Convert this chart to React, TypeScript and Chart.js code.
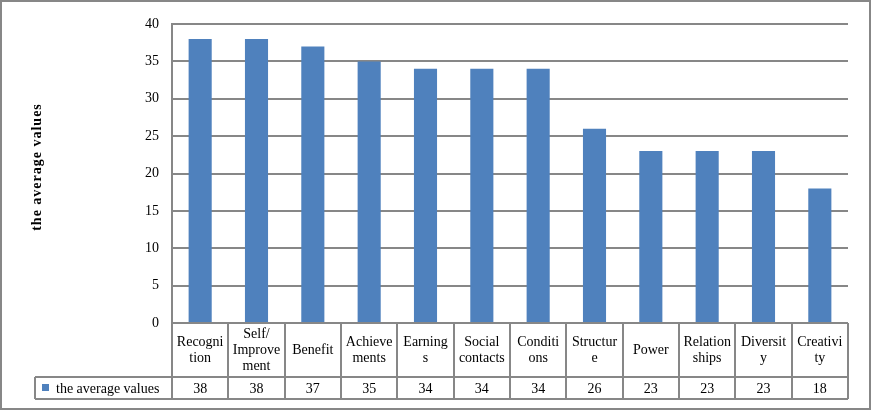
import React, { useEffect, useRef } from "react";
import { Chart, registerables } from "chart.js";

Chart.register(...registerables);

const categories: string[][] = [
  ["Recogni", "tion"],
  ["Self/", "Improve", "ment"],
  ["Benefit"],
  ["Achieve", "ments"],
  ["Earning", "s"],
  ["Social", "contacts"],
  ["Conditi", "ons"],
  ["Structur", "e"],
  ["Power"],
  ["Relation", "ships"],
  ["Diversit", "y"],
  ["Creativi", "ty"],
];
const seriesName = "the average values";
const averageValues = [38, 38, 37, 35, 34, 34, 34, 26, 23, 23, 23, 18];
const yMin = 0;
const yMax = 40;
const yStep = 5;
const axisTitle = "the average values";

const BAR = "#4F81BD";
const GRID = "#878787";
const FONT = '"Liberation Serif", "Times New Roman", serif';

const tablePlugin = {
  id: "dataTable",
  afterDraw(chart: any) {
    const { ctx, chartArea, scales } = chart;
    const xs = scales.x;
    const n = categories.length;
    const right = chartArea.right;
    const top = Math.round(chartArea.bottom);
    const mid = top + 54;
    const bot = mid + 22;
    const legendLeft = 35;
    const half = (xs.getPixelForValue(1) - xs.getPixelForValue(0)) / 2;

    ctx.save();
    ctx.strokeStyle = GRID;
    ctx.lineWidth = 2;
    ctx.beginPath();
    for (let i = 0; i <= n; i++) {
      const px = Math.round(i < n ? xs.getPixelForValue(i) - half : right);
      ctx.moveTo(px, top);
      ctx.lineTo(px, bot);
    }
    ctx.moveTo(legendLeft, mid);
    ctx.lineTo(right, mid);
    ctx.moveTo(legendLeft, bot);
    ctx.lineTo(right, bot);
    ctx.moveTo(legendLeft, mid);
    ctx.lineTo(legendLeft, bot);
    ctx.stroke();

    ctx.fillStyle = "#000";
    ctx.font = "14px " + FONT;
    ctx.textAlign = "center";
    ctx.textBaseline = "middle";
    const lh = 16;
    for (let i = 0; i < n; i++) {
      const cx = xs.getPixelForValue(i);
      const lines = categories[i];
      const cy = (top + mid) / 2;
      const startY = cy - ((lines.length - 1) * lh) / 2;
      lines.forEach((ln, j) => ctx.fillText(ln, cx, startY + j * lh));
      ctx.fillText(String(averageValues[i]), cx, (mid + bot) / 2 + 1);
    }

    ctx.fillStyle = BAR;
    ctx.fillRect(42, 384, 7, 7);
    ctx.fillStyle = "#000";
    ctx.textAlign = "left";
    ctx.fillText(seriesName, 56, (mid + bot) / 2 + 1);

    // rotated axis title
    ctx.save();
    ctx.translate(37, 167);
    ctx.rotate(-Math.PI / 2);
    ctx.font = "bold 14px " + FONT;
    (ctx as any).letterSpacing = "1px";
    ctx.textAlign = "center";
    ctx.textBaseline = "middle";
    ctx.fillText(axisTitle, 0, 0);
    ctx.restore();

    ctx.strokeStyle = GRID;
    ctx.lineWidth = 2;
    ctx.strokeRect(1, 1, 869, 408);
    ctx.restore();
  },
};

export default function App() {
  const ref = useRef<HTMLCanvasElement | null>(null);
  useEffect(() => {
    document.body.style.margin = "0";
    const canvas = ref.current;
    if (!canvas) return;
    const chart = new Chart(canvas, {
      type: "bar",
      data: {
        labels: categories,
        datasets: [
          {
            label: seriesName,
            data: averageValues,
            backgroundColor: BAR,
            borderWidth: 0,
            barPercentage: 0.41,
            categoryPercentage: 1,
          },
        ],
      },
      options: {
        responsive: false,
        animation: false,
        layout: { padding: { left: 0, right: 24, top: 24, bottom: 88 } },
        plugins: {
          legend: { display: false },
          tooltip: { enabled: false },
        },
        scales: {
          x: { display: false },
          y: {
            min: yMin,
            max: yMax,
            ticks: {
              stepSize: yStep,
              padding: 13,
              color: "#000",
              font: { family: FONT, size: 14 },
            },
            grid: { color: GRID, lineWidth: 2, drawTicks: false },
            border: { color: GRID, width: 2 },
            afterFit(scale: any) {
              scale.width = 172;
            },
          },
        },
      },
      plugins: [tablePlugin],
    } as any);
    return () => chart.destroy();
  }, []);
  return (
    <canvas
      ref={ref}
      width={872}
      height={411}
      style={{ display: "block", width: 872, height: 411 }}
    />
  );
}
